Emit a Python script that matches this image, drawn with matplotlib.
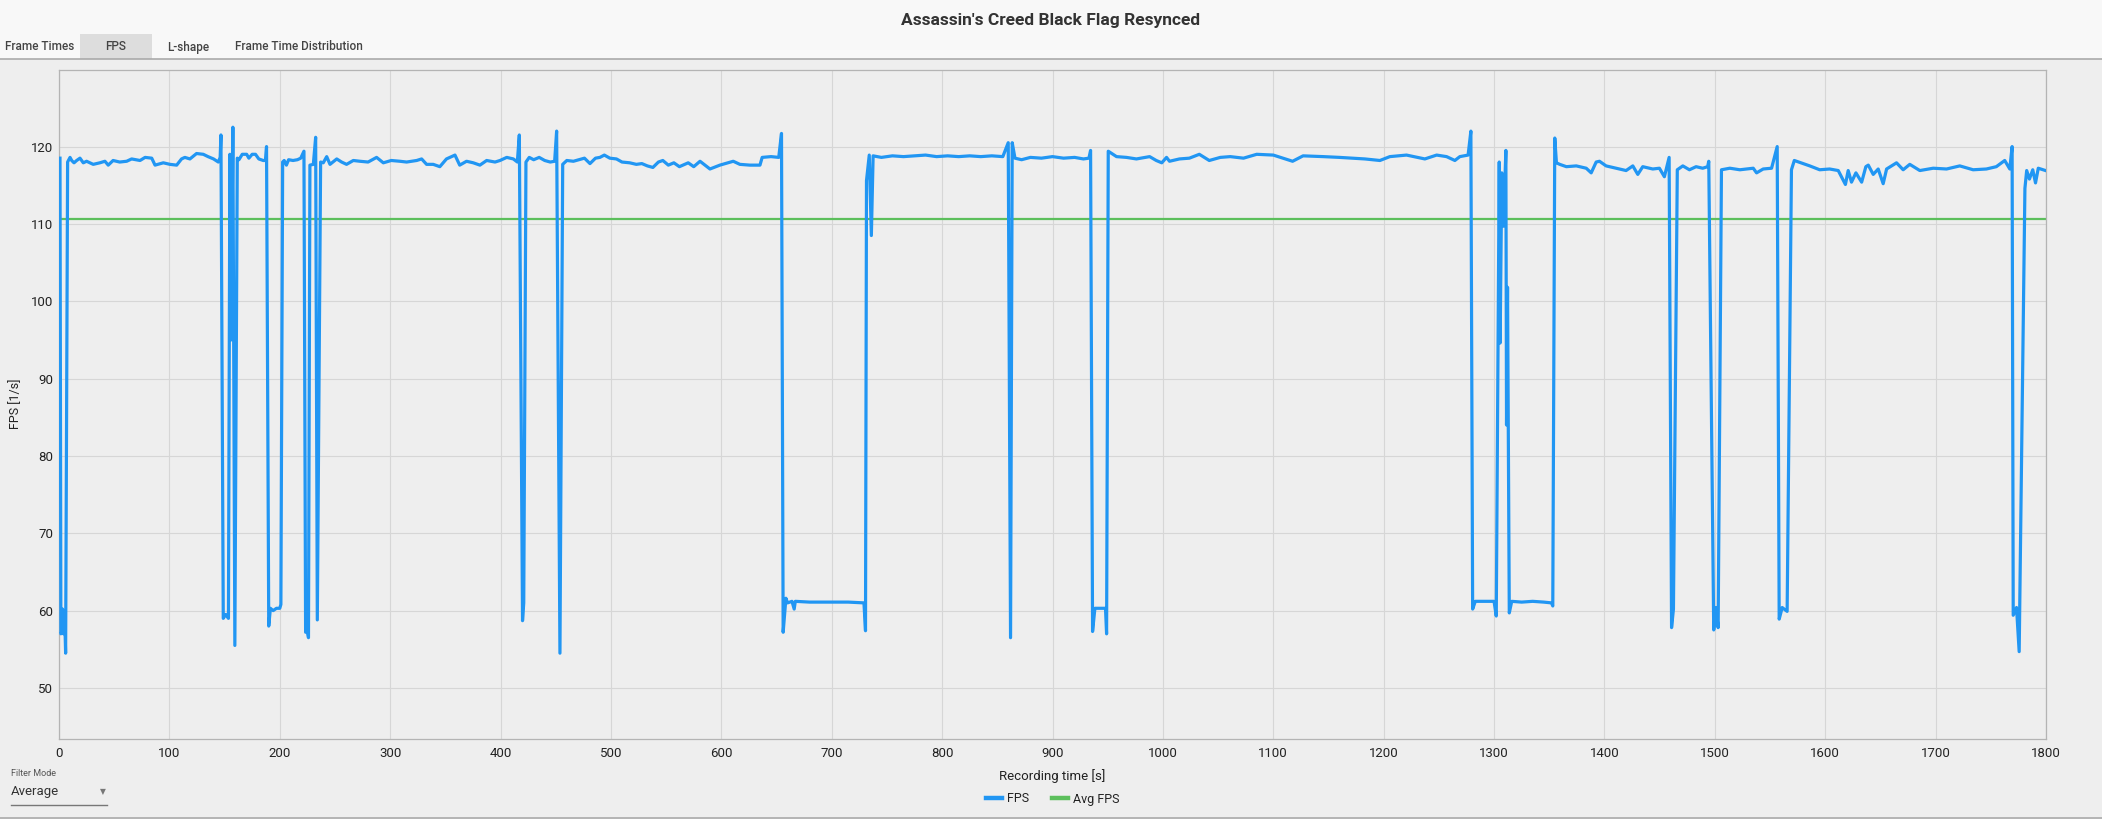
import matplotlib
matplotlib.use("Agg")
import matplotlib.pyplot as plt
from matplotlib.lines import Line2D
from matplotlib.patches import Rectangle

# recording time [s] and FPS values
time_s = [
    0.9, 1.7, 2.5, 3.2, 4.0, 5.0, 6.0, 7.8,
    10, 11.5, 13.6, 16, 19, 22, 25, 31, 37, 41.6, 44.6, 49, 55, 61.3, 65.8, 73.4,
    78, 84, 87, 94.5, 100.5, 106.6, 111, 114, 118.6, 124.6, 130.7, 135, 140, 144.3, 146,
    146.7, 148.8, 151, 153.5, 154.8, 156, 157.5, 159.3, 161.5,
    163, 166, 170, 172, 175, 178, 181, 185, 187,
    188, 190, 191.5, 194, 197, 200, 201, 202.6,
    204, 206, 208, 212, 216, 219, 221.9, 223.4, 225, 226, 227.3, 230.4, 232.5, 234, 237,
    239.4, 242.5, 245.5, 251.6, 256, 260.5, 266.6, 272.6, 280, 287.7, 293.8, 301, 308.8,
    314.9, 324, 328.5, 333, 339, 345, 351, 358.7, 363, 369.2, 375.3, 381.3, 387.4, 395,
    399.5, 405.6, 411.6, 415.2,
    417, 419.9, 421, 423, 426, 430, 435, 440, 445, 449, 450.8, 453.8, 456.3,
    460, 466, 471, 476, 481, 486, 490, 494, 499, 505, 510, 517, 523, 528, 533, 538, 543,
    547, 552, 557, 562, 570, 575, 580.7, 589.7, 598.7, 610.8, 616.8, 625.9, 635,
    637, 645, 652, 654.5, 656, 658.5, 660, 664, 666, 667, 680, 700, 715, 729.2,
    730.6, 731.5, 734, 735.9, 737.5,
    745, 755, 765, 775, 785, 795, 805, 815, 825, 835, 845, 855, 859.9, 862, 863.5, 866,
    872, 880, 890, 900, 910, 920, 928, 933, 934.5, 936.3, 938.4, 945, 948, 949, 950.5,
    958, 967, 976, 988, 994, 999, 1003.3, 1006, 1015, 1024, 1033, 1042, 1052, 1061, 1073,
    1085, 1100, 1117.5, 1127, 1145.3, 1160, 1183, 1196.6, 1205.6, 1220.7, 1237.3, 1248,
    1257, 1264.5, 1269, 1276.5,
    1279, 1280.6, 1283, 1290, 1300, 1302, 1304.7, 1305.5, 1307, 1308.5, 1310.7, 1311.3,
    1312.2, 1313.8, 1316, 1325, 1335, 1345, 1352, 1353.2, 1355, 1356.5,
    1359.5, 1365.5, 1374.5, 1383.5, 1388, 1392.5, 1395.5, 1401.5, 1410.6, 1419.6, 1425.7,
    1430.2, 1434.7, 1443.8, 1449.8, 1454.3, 1458.6, 1460.8, 1462.5, 1466,
    1471, 1477, 1483, 1489, 1493.5, 1494.5, 1499, 1501, 1503, 1506,
    1513.6, 1522.7, 1534.8, 1537.8, 1543.8, 1551.4, 1556.5, 1558.3, 1561, 1565.5, 1569.4,
    1572, 1586, 1595, 1604, 1611.8, 1618.3, 1620.8, 1623.8, 1627.8, 1633, 1636.8, 1639,
    1643.5, 1648, 1652.5, 1655.6, 1664.6, 1670.6, 1676.6, 1685.7, 1697.8, 1709.9, 1721.9,
    1734, 1746, 1755, 1762.6, 1767.2, 1769.3, 1770.3, 1773.3, 1775.7, 1780.9, 1782.5,
    1785, 1788, 1790.5, 1793, 1799.6,
]
fps = [
    118.5, 57.0, 57.2, 60.2, 57.0, 60.0, 54.5, 118.0,
    118.6, 118.2, 117.9, 118.2, 118.5, 117.9, 118.1, 117.7, 117.9, 118.1, 117.6, 118.2,
    118.0, 118.1, 118.4, 118.2, 118.6, 118.5, 117.6, 117.9, 117.7, 117.6, 118.4, 118.6,
    118.4, 119.1, 119.0, 118.7, 118.4, 118.0, 118.6,
    121.5, 59.0, 59.5, 59.0, 119.0, 95.0, 122.5, 55.5, 118.5,
    118.3, 119.0, 119.0, 118.5, 119.0, 119.0, 118.4, 118.2, 118.2,
    120.0, 58.0, 60.3, 60.0, 60.3, 60.3, 60.8, 118.0,
    118.2, 117.6, 118.3, 118.2, 118.3, 118.5, 119.4, 57.2, 57.3, 56.5, 117.6, 117.7,
    121.2, 58.8, 118.0,
    117.9, 118.7, 117.7, 118.4, 118.0, 117.7, 118.2, 118.1, 118.0, 118.6, 117.9, 118.2,
    118.1, 118.0, 118.2, 118.4, 117.7, 117.7, 117.4, 118.4, 118.9, 117.6, 118.1, 117.9,
    117.6, 118.2, 118.0, 118.2, 118.6, 118.4, 118.0,
    121.5, 58.7, 61.0, 118.0, 118.6, 118.3, 118.6, 118.2, 118.0, 118.1, 122.0, 54.5, 117.7,
    118.2, 118.1, 118.3, 118.5, 117.8, 118.5, 118.6, 118.9, 118.5, 118.4, 118.0, 117.9,
    117.7, 117.8, 117.5, 117.3, 118.0, 118.2, 117.6, 117.9, 117.4, 117.9, 117.4, 118.1,
    117.1, 117.6, 118.1, 117.7, 117.6, 117.6,
    118.6, 118.7, 118.6, 121.7, 57.2, 61.6, 61.0, 61.2, 60.2, 61.2, 61.1, 61.1, 61.1, 61.0,
    57.4, 115.6, 118.9, 108.5, 118.8,
    118.6, 118.8, 118.7, 118.8, 118.9, 118.7, 118.8, 118.7, 118.8, 118.7, 118.8, 118.7,
    120.5, 56.5, 120.5, 118.5,
    118.3, 118.6, 118.5, 118.7, 118.5, 118.6, 118.4, 118.5, 119.5, 57.3, 60.3, 60.3, 60.3,
    57.0, 119.4,
    118.7, 118.6, 118.4, 118.7, 118.2, 117.9, 118.6, 118.1, 118.4, 118.5, 119.0, 118.2,
    118.6, 118.7, 118.5, 119.0, 118.9, 118.1, 118.8, 118.7, 118.6, 118.4, 118.2, 118.7,
    118.9, 118.4, 118.9, 118.7, 118.2, 118.7, 118.9,
    122.0, 60.2, 61.2, 61.2, 61.2, 59.3, 118.0, 94.6, 116.6, 109.7, 119.5, 84.0,
    101.8, 59.7, 61.2, 61.1, 61.2, 61.1, 61.0, 60.6, 121.1, 117.9,
    117.7, 117.4, 117.5, 117.2, 116.6, 118.0, 118.1, 117.5, 117.2, 116.9, 117.5,
    116.4, 117.4, 117.1, 117.2, 116.1, 118.6, 57.8, 60.2, 117.0,
    117.5, 117.0, 117.4, 117.2, 117.4, 118.1, 57.5, 60.4, 57.8, 117.0,
    117.2, 117.0, 117.2, 116.6, 117.1, 117.2, 120.0, 58.9, 60.4, 59.9, 117.0,
    118.2, 117.5, 117.0, 117.1, 116.9, 115.1, 116.9, 115.4, 116.6, 115.4, 117.4, 117.6,
    116.4, 117.1, 115.2, 117.1, 117.9, 117.0, 117.7, 116.9, 117.2, 117.1, 117.5,
    117.0, 117.1, 117.4, 118.2, 117.1, 120.0, 59.4, 60.4, 54.7, 114.6, 116.9,
    115.8, 117.0, 115.3, 117.2, 116.9,
]
avg_fps = 110.6

x_ticks = list(range(0, 1801, 100))
y_ticks = list(range(50, 121, 10))

W, H = 2102, 819
BG = "#eeeeee"

plt.rcParams["font.family"] = ["Roboto", "DejaVu Sans"]

fig = plt.figure(figsize=(W / 100, H / 100), dpi=100, facecolor=BG)


def fx(px):
    return px / W


def fy(py):
    return 1 - py / H


# header band with tabs
fig.patches.append(Rectangle((0, fy(59)), 1, 59 / H, transform=fig.transFigure,
                             facecolor="#f8f8f8", edgecolor="none", zorder=0))
fig.patches.append(Rectangle((fx(80), fy(59)), 72 / W, 25 / H, transform=fig.transFigure,
                             facecolor="#dddddd", edgecolor="none", zorder=1))
fig.lines.append(Line2D([0, 1], [fy(59), fy(59)], transform=fig.transFigure,
                        color="#aaaaaa", lw=1.2))
fig.lines.append(Line2D([0, 1], [fy(818), fy(818)], transform=fig.transFigure,
                        color="#aaaaaa", lw=1.2))

fig.text(0.5, fy(21), "Assassin's Creed Black Flag Resynced", ha="center", va="center",
         fontsize=12.5, fontweight="bold", color="#333333")
for label, cx in [("Frame Times", 40), ("FPS", 116), ("L-shape", 188),
                  ("Frame Time Distribution", 299)]:
    fig.text(fx(cx), fy(47), label, ha="center", va="center", fontsize=8.5,
             fontweight="medium", color="#444444")

# main plot
ax = fig.add_axes([fx(59), fy(739), (2046 - 59) / W, (739 - 70) / H])
ax.set_facecolor(BG)
ax.plot(time_s, fps, color="#2196f3", lw=2.3, label="FPS", zorder=3)
ax.axhline(avg_fps, color="#5cbf5c", lw=1.6, label="Avg FPS", zorder=2)

ax.set_xlim(0, 1800)
ax.set_ylim(43.4, 129.9)
ax.set_xticks(x_ticks)
ax.set_yticks(y_ticks)
ax.tick_params(length=0, labelsize=9.5, colors="#222222")
ax.tick_params(axis="x", pad=6)
ax.tick_params(axis="y", pad=4)
ax.grid(True, color="#d6d6d6", lw=0.8)
ax.set_axisbelow(True)
for sp in ax.spines.values():
    sp.set_color("#b4b4b4")
    sp.set_linewidth(0.9)

fig.text(fx(16), fy(404), "FPS [1/s]", rotation=90, ha="center", va="center",
         fontsize=9, color="#222222")
fig.text(fx(1052), fy(776), "Recording time [s]", ha="center", va="center",
         fontsize=9.5, color="#222222")

handles = [Line2D([], [], color="#2196f3", lw=3.2),
           Line2D([], [], color="#5cbf5c", lw=3.2)]
fig.legend(handles, ["FPS", "Avg FPS"], loc="center", bbox_to_anchor=(fx(1053), fy(799)),
           ncol=2, frameon=False, fontsize=9, handlelength=1.3, handletextpad=0.4,
           columnspacing=1.8, labelcolor="#222222")

# filter mode selector
fig.text(fx(11), fy(773), "Filter Mode", ha="left", va="center", fontsize=6.5,
         color="#555555")
fig.text(fx(11), fy(792), "Average", ha="left", va="center", fontsize=9.5,
         color="#333333")
fig.text(fx(103), fy(792), "\u25bc", ha="center", va="center", fontsize=5.5,
         color="#777777", family="DejaVu Sans")
fig.lines.append(Line2D([fx(11), fx(107)], [fy(805), fy(805)], transform=fig.transFigure,
                        color="#777777", lw=1.0))

fig.savefig("out.png", dpi=100, facecolor=BG)
